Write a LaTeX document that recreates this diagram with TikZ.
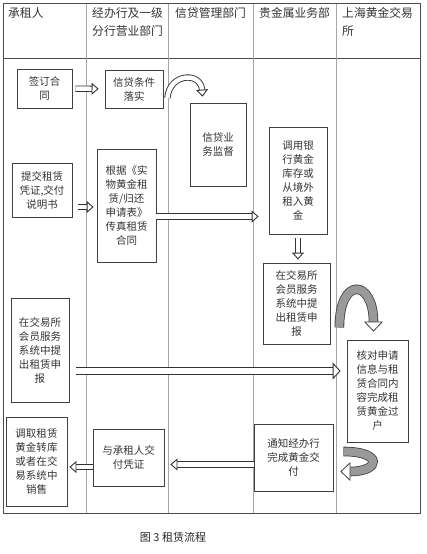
\documentclass[tikz,border=0pt]{standalone}
\usepackage{fontspec}
\setmainfont{Noto Sans CJK SC}
\usetikzlibrary{arrows.meta,calc}

\begin{document}
\begin{tikzpicture}[x=1pt, y=-1pt,
    caja/.style={draw=black!75, line width=0.8pt, align=center, font=\fontsize{10.5}{14}\selectfont, text=black!80, inner sep=1pt},
    carril/.style={draw=black!35, line width=1pt},
    marco/.style={draw=black!70, line width=0.9pt},
    titulo/.style={anchor=north west, align=left, font=\fontsize{11.8}{18}\selectfont, text=black!80, inner sep=0pt},
    flecha/.style={draw=black!80, line width=0.9pt, double=white, double distance=4.5pt, -{Triangle[open, fill=white, width=12pt, length=7pt, line width=0.9pt]}},
    flechaancha/.style={draw=black!80, line width=0.9pt, double=white, double distance=6.5pt, -{Triangle[open, fill=white, width=17pt, length=8pt, line width=0.9pt]}},
    giro/.style={draw=black!75, line width=0.8pt, double=black!40, double distance=8pt, -{Triangle[open, fill=white, width=19pt, length=10pt, line width=0.8pt]}}
]
\useasboundingbox (0,0) rectangle (427,554);

% tabla
\draw[marco] (3,3) rectangle (420,513);
\draw[marco] (3,58) -- (420,58);
\foreach \x in {86,168,253,336}
    \draw[carril] (\x,3.5) -- (\x,512.5);

\node[titulo] (h1) at (8,7) {承租人};
\node[titulo] (h2) at (92,7) {经办行及一级\\分行营业部门};
\node[titulo] (h3) at (175,7) {信贷管理部门};
\node[titulo] (h4) at (259,7) {贵金属业务部};
\node[titulo] (h5) at (342,7) {上海黄金交易\\所};

% pasos
\node[caja, minimum width=55pt, minimum height=39pt] (p1) at (44.5,88.5) {签订合\\同};
\node[caja, minimum width=58pt, minimum height=38pt] (p2) at (134,89) {信贷条件\\落实};
\node[caja, minimum width=56pt, minimum height=83pt] (p3) at (218,144.5) {信贷业\\务监督};
\node[caja, minimum width=58pt, minimum height=107pt] (p4) at (298,180.5) {调用银\\行黄金\\库存或\\从境外\\租入黄\\金};
\node[caja, minimum width=60pt, minimum height=54pt] (p5) at (42,190) {提交租赁\\凭证,交付\\说明书};
\node[caja, minimum width=59pt, minimum height=113pt] (p6) at (126.5,205.5) {根据《实\\物黄金租\\赁/归还\\申请表》\\传真租赁\\合同};
\node[caja, minimum width=67pt, minimum height=81pt] (p7) at (296.5,303.5) {在交易所\\会员服务\\系统中提\\出租赁申\\报};
\node[caja, minimum width=58pt, minimum height=104pt] (p8) at (40,350) {在交易所\\会员服务\\系统中提\\出租赁申\\报};
\node[caja, minimum width=61pt, minimum height=102pt] (p9) at (377.5,391) {核对申请\\信息与租\\赁合同内\\容完成租\\赁黄金过\\户};
\node[caja, minimum width=61pt, minimum height=89pt] (p10) at (36.5,461.5) {调取租赁\\黄金转库\\或者在交\\易系统中\\销售};
\node[caja, minimum width=71pt, minimum height=57pt] (p11) at (128.5,457.5) {与承租人交\\付凭证};
\node[caja, minimum width=79pt, minimum height=67pt] (p12) at (293.5,457.5) {通知经办行\\完成黄金交\\付};

\node[font=\fontsize{11}{12}\selectfont, text=black!85] (pie) at (173,537) {图 3 租赁流程};

% flechas
\coordinate (a1) at ($(p5.east)+(0,17)$);
\coordinate (a2) at ($(p6.east)+(0,11)$);
\coordinate (a3) at ($(p8.east)+(0,21)$);
\coordinate (a4) at ($(p12.west)+(0,7)$);
\coordinate (a5) at ($(p11.west)+(0,9.5)$);

\draw[flecha, shorten <=3pt, shorten >=6pt] (p1) -- (p2);
\draw[flecha] ($(p2.east)+(4,9)$) .. controls +(2,-25) and +(-2,-25) .. ($(p3.north west)+(13,-6)$);
\draw[flecha, shorten <=6pt, shorten >=3pt] (a1) -- (a1 -| p6.west);
\draw[flecha, shorten >=10pt] (a2) -- (a2 -| p4.west);
\draw[flecha, shorten <=4pt, shorten >=3pt] (p4.south) -- (p4.south |- p7.north);
\draw[giro] ($(p7.east)+(9,24)$) .. controls +(0,-52) and +(0,-52) .. ($(p9.north)+(-4,-8)$);
\draw[flechaancha, shorten <=7pt, shorten >=6pt] (a3) -- (a3 -| p9.west);
\draw[flecha, shorten >=6pt] (a4) -- (a4 -| p11.east);
\draw[flecha, shorten >=2pt] (a5) -- (a5 -| p10.east);
\draw[giro] ($(p12.east)+(10,-6)$) .. controls +(40,0) and +(40,0) .. ($(p12.east)+(7,14)$);
\end{tikzpicture}
\end{document}
